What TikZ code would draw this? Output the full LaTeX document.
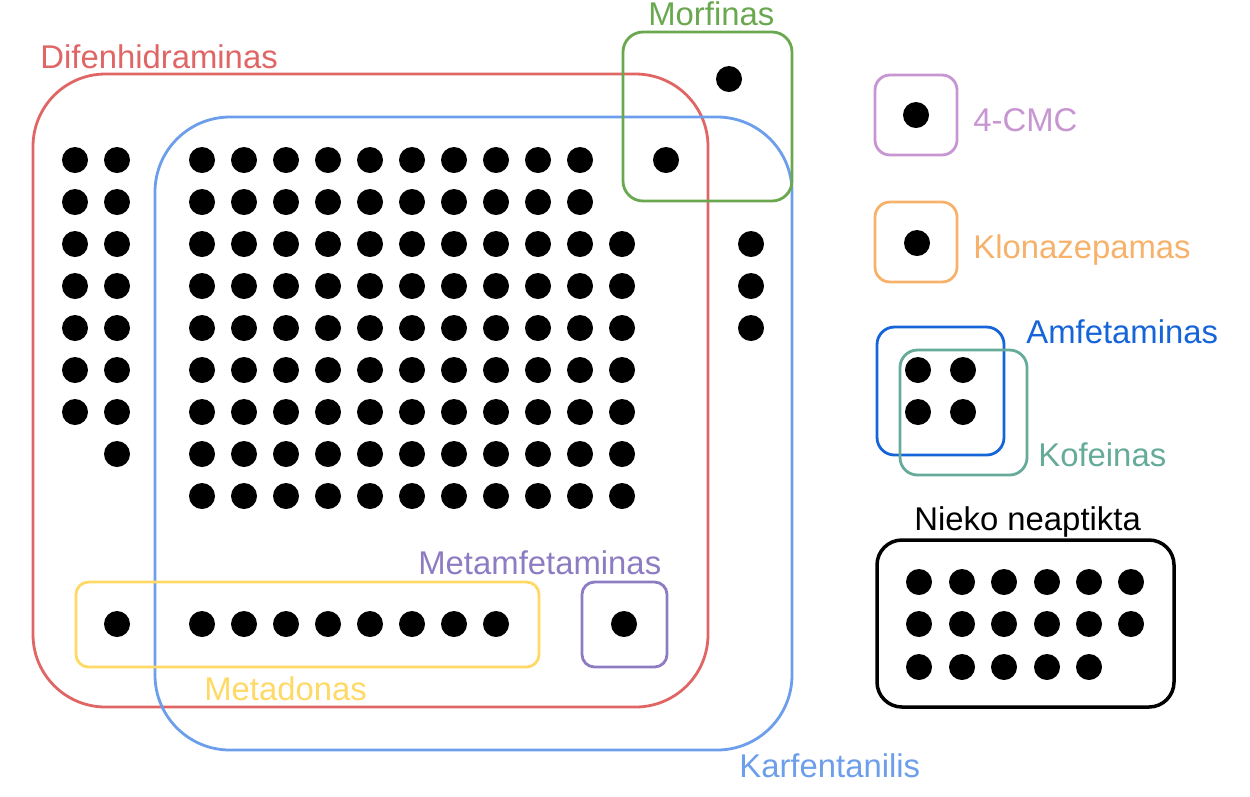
\documentclass[tikz,border=0pt]{standalone}
\usepackage{fontspec}
\setmainfont{Liberation Sans}
\definecolor{difen}{HTML}{E06666}
\definecolor{karf}{HTML}{6D9EEB}
\definecolor{morf}{HTML}{6AA84F}
\definecolor{metad}{HTML}{FFD966}
\definecolor{metamf}{HTML}{8E7CC3}
\definecolor{cmc}{HTML}{C895D3}
\definecolor{klon}{HTML}{F6B26B}
\definecolor{amf}{HTML}{1565D8}
\definecolor{kof}{HTML}{66AA99}
\begin{document}
\begin{tikzpicture}[x=0.02cm,y=-0.02cm,
  set/.style={line width=1.6pt, rounded corners=#1},
  lbl/.style={anchor=base west, inner sep=0pt, font=\fontsize{18.7}{22}\selectfont}]
\useasboundingbox (0,0) rectangle (1250,796);
\def\difenset{(33,74) rectangle (708,707)}
\def\karfset{(155,117) rectangle (792,750)}
\def\morfset{(623,32) rectangle (792,201)}

% big sets
\draw[set=1.45cm, difen] \difenset;
\draw[set=1.5cm, karf] \karfset;
\draw[set=0.4cm, morf] \morfset;
\draw[set=0.25cm, metad] (76,582) rectangle (539,667);
\draw[set=0.25cm, metamf] (582,582) rectangle (667,667);

% small sets on the right
\draw[set=0.3cm, cmc] (875,75) rectangle (957,155);
\draw[set=0.3cm, klon] (875,202) rectangle (957,282);
\draw[set=0.35cm, amf] (877,327) rectangle (1004,455);
\draw[set=0.35cm, kof] (900,350) rectangle (1027,475);
\draw[set=0.5cm, black, line width=2pt] (877,540) rectangle (1174,707);

% labels
\node[lbl, text=difen] (ldifen) at (40,68) {Difenhidraminas};
\node[lbl, text=morf] (lmorf) at (648,25) {Morfinas};
\node[lbl, text=cmc] (lcmc) at (973,131) {4-CMC};
\node[lbl, text=klon] (lklon) at (973,258) {Klonazepamas};
\node[lbl, text=amf] (lamf) at (1026,343) {Amfetaminas};
\node[lbl, text=kof] (lkof) at (1038,466) {Kofeinas};
\node[lbl] (lnieko) at (914,530) {Nieko neaptikta};
\node[lbl, text=metamf] (lmetamf) at (418,574) {Metamfetaminas};
\node[lbl, text=metad] (lmetad) at (204,700) {Metadonas};
\node[lbl, text=karf] (lkarf) at (739,777) {Karfentanilis};

% dots
\foreach \y in {160,202,...,412} \fill (75,\y) circle (13);
\foreach \y in {160,202,...,454} \fill (117,\y) circle (13);
\foreach \x in {202,244,...,580} {
  \fill (\x,160) circle (13);
  \fill (\x,202) circle (13);
}
\foreach \x in {202,244,...,622}
  \foreach \y in {244,286,...,496} \fill (\x,\y) circle (13);
\foreach \y in {244,286,328} \fill (751,\y) circle (13);
\fill (666,160) circle (13) (729,79) circle (13);
\fill (117,624) circle (13) (624,624) circle (13);
\foreach \x in {202,244,...,496} \fill (\x,624) circle (13);

\fill (916,115) circle (13) (917,243) circle (13);
\foreach \x in {918,963}
  \foreach \y in {370,412} \fill (\x,\y) circle (13);
\foreach \x in {919,962,1004,1047,1089,1131} {
  \fill (\x,582) circle (13);
  \fill (\x,624) circle (13);
}
\foreach \x in {919,962,1004,1047,1089} \fill (\x,667) circle (13);
\end{tikzpicture}
\end{document}
